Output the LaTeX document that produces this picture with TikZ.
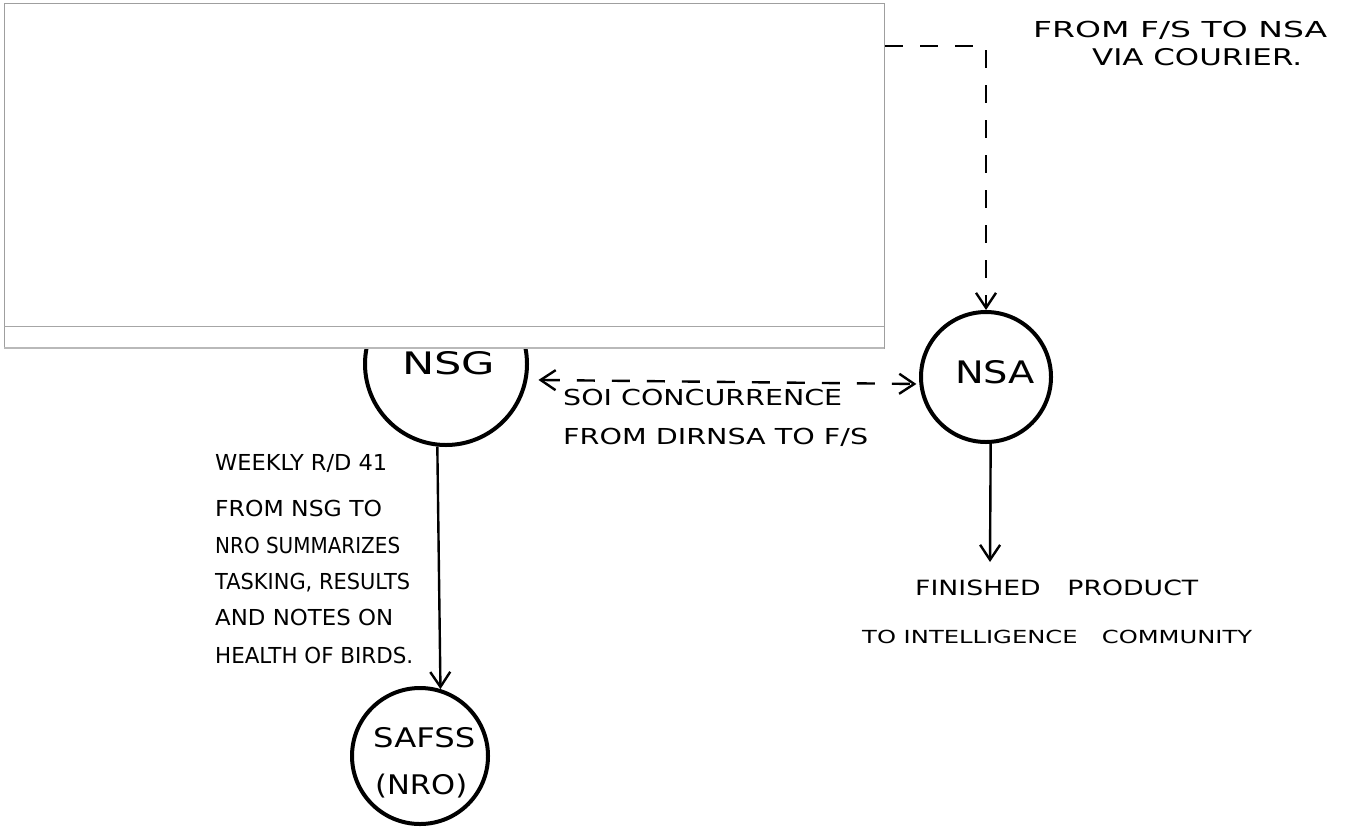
\documentclass[tikz,border=0pt]{standalone}
\usepackage{fontspec}
\usepackage{graphicx}
\setmainfont{DejaVu Sans}
\usetikzlibrary{arrows.meta}
\newcommand{\hwtext}[2]{\resizebox{#1pt}{\height}{#2}}
\begin{document}
\begin{tikzpicture}[x=1pt,y=-1pt,
  circ/.style={circle, draw=black, line width=4pt, inner sep=0pt},
  tip/.tip={Straight Barb[length=15pt,width=20pt,line width=2.4pt]},
  flow/.style={line width=2.4pt, -tip},
  dflow/.style={flow, dash pattern=on 18pt off 17pt},
  lbl/.style={anchor=west, inner sep=0pt},
  sz/.style={font=\fontsize{#1}{#1}\selectfont},
]
\useasboundingbox (0,0) rectangle (1346,831);
\fill[white] (0,0) rectangle (1346,831);

% circles
\node[circ, minimum size=162pt] (nsg) at (446,364) {};
\node[circ, minimum size=130pt] (nsa) at (986,377) {};
\node[circ, minimum size=136pt] (safss) at (420,756) {};

% circle texts
\node[lbl, sz=31] (nsgt) at (402,363) {\hwtext{93}{NSG}};
\node[lbl, sz=31] (nsat) at (955,372) {\hwtext{80}{NSA}};
\node[lbl, sz=27] (safsst) at (373,738) {\hwtext{102}{SAFSS}};
\node[lbl, sz=27] (nrot) at (375,786) {\hwtext{92}{(NRO)}};

% free ends
\coordinate (fsrc) at (850,46);
\coordinate (fpend) at (990,562);

% connectors
\draw[dflow] (fsrc) -| (nsa.north);
\draw[dflow, tip-tip, shorten <=11pt, shorten >=3pt] (nsg.-11) -- (nsa.186);
\draw[flow] (nsg.264) -- (safss.73);
\draw[flow] (nsa.-86) -- (fpend);

% labels
\node[lbl, sz=22] (t1) at (1033,30) {\hwtext{294}{FROM F/S TO NSA}};
\node[lbl, sz=23] (t2) at (1092,57) {\hwtext{210}{VIA COURIER.}};
\node[lbl, sz=22] (soi1) at (563,397) {\hwtext{279}{SOI CONCURRENCE}};
\node[lbl, sz=22] (soi2) at (563,437) {\hwtext{305}{FROM DIRNSA TO F/S}};

\node[lbl, sz=22] (w1) at (215,463) {\hwtext{172}{WEEKLY R/D 41}};
\node[lbl, sz=22] (w2) at (215,508) {\hwtext{167}{FROM NSG TO}};
\node[lbl, sz=22] (w3) at (215,545) {\hwtext{185}{NRO SUMMARIZES}};
\node[lbl, sz=22] (w4) at (215,583) {\hwtext{195}{TASKING, RESULTS}};
\node[lbl, sz=22] (w5) at (215,617) {\hwtext{178}{AND NOTES ON}};
\node[lbl, sz=22] (w6) at (215,655) {\hwtext{198}{HEALTH OF BIRDS.}};

\node[lbl, sz=21] (fp1) at (915,588) {\hwtext{283}{FINISHED\quad PRODUCT}};
\node[lbl, sz=18] (fp2) at (862,637) {\hwtext{390}{TO INTELLIGENCE\quad COMMUNITY}};

% overlaid white box
\draw[draw=gray!75, fill=white, line width=1pt] (4,3) rectangle (884,348);
\draw[gray!70, line width=1pt] (4,326) -- (884,326);
\draw[gray!55, line width=1.6pt] (4,348) -- (884,348);
\end{tikzpicture}
\end{document}
